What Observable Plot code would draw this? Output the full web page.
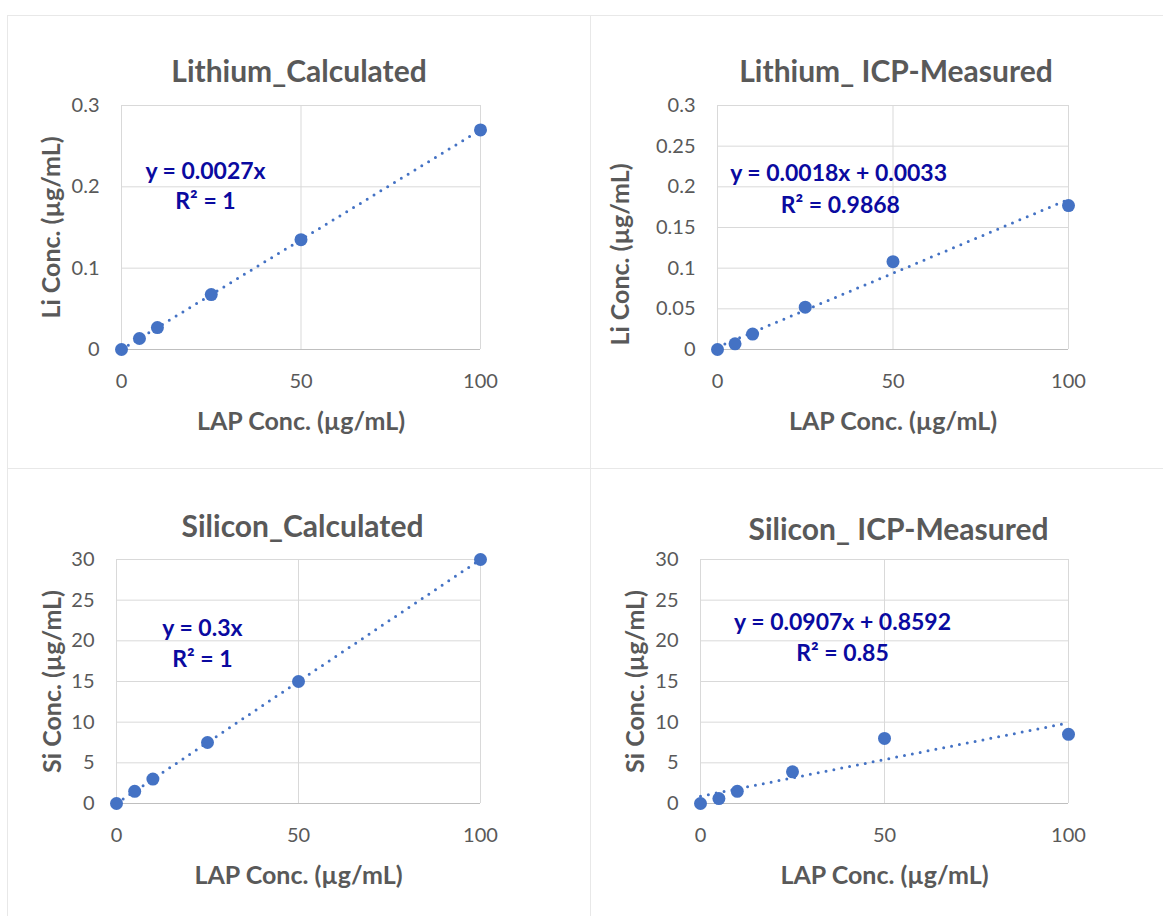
<!DOCTYPE html>
<html><head><meta charset="utf-8">
<script src="https://cdn.jsdelivr.net/npm/d3@7"></script>
<script src="https://cdn.jsdelivr.net/npm/@observablehq/plot@0.6"></script>
<style>
body{margin:0;background:#fff;font-family:Lato,"Open Sans",sans-serif}
#wrap{position:relative;width:1163px;height:916px;overflow:hidden;background:#fff}
.panel{position:absolute}
.line{position:absolute;background:#E8E8E8}
</style></head><body><div id="wrap"></div>
<script>
// ---- data ----
const lapConc = [0, 5, 10, 25, 50, 100];
const liCalculated = [0, 0.0135, 0.027, 0.0675, 0.135, 0.27];
const liMeasured = [0, 0.007, 0.019, 0.052, 0.108, 0.177];
const siCalculated = [0, 1.5, 3, 7.5, 15, 30];
const siMeasured = [0, 0.6, 1.5, 3.9, 8.0, 8.5];

const xTicks = [0, 50, 100];
const liCalcTicks = [0, 0.1, 0.2, 0.3];
const liMeasTicks = [0, 0.05, 0.1, 0.15, 0.2, 0.25, 0.3];
const siTicks = [0, 5, 10, 15, 20, 25, 30];

const titles = ["Lithium_Calculated", "Lithium_ ICP-Measured", "Silicon_Calculated", "Silicon_ ICP-Measured"];
const equations = [
  ["y = 0.0027x", "R² = 1"],
  ["y = 0.0018x + 0.0033", "R² = 0.9868"],
  ["y = 0.3x", "R² = 1"],
  ["y = 0.0907x + 0.8592", "R² = 0.85"]
];
const yLabels = ["Li Conc. (µg/mL)", "Li Conc. (µg/mL)", "Si Conc. (µg/mL)", "Si Conc. (µg/mL)"];
const xLabel = "LAP Conc. (µg/mL)";

// ---- styles ----
const BLUE = "#4472C4", GRAY = "#595959", GRID = "#D9D9D9", EQ = "#0A0AA0";
const FONT = "Lato, 'Open Sans', sans-serif";

const panels = [
  {left: 7, top: 15, width: 583, height: 453, m: [90, 110, 119, 114], yv: liCalculated, yt: liCalcTicks, ymax: 0.3,
   eqPos: [[23.4, 0.219], [23.4, 0.182]], yLabDx: -70, yLabDy: 0, tDx: -2, tDy: -24},
  {left: 590, top: 15, width: 573, height: 453, m: [90, 95, 119, 127], yv: liMeasured, yt: liMeasTicks, ymax: 0.3,
   eqPos: [[34.5, 0.216], [35, 0.177]], yLabDx: -97, yLabDy: 27, tDx: 3, tDy: -24},
  {left: 7, top: 468, width: 583, height: 448, m: [91, 110, 113, 109], yv: siCalculated, yt: siTicks, ymax: 30,
   eqPos: [[23.6, 21.5], [23.6, 17.7]], yLabDx: -64, yLabDy: 0, tDx: 4, tDy: -23},
  {left: 590, top: 468, width: 573, height: 448, m: [91, 95, 113, 110], yv: siMeasured, yt: siTicks, ymax: 30,
   eqPos: [[38.6, 22.3], [38.6, 18.4]], yLabDx: -65, yLabDy: 0, tDx: 14, tDy: -20}
];

const wrap = document.getElementById("wrap");

// panel separator lines
[[7, 15, 1156, 1], [7, 468, 1156, 1], [7, 15, 1, 901], [590, 15, 1, 901]].forEach(([l, t, w, h]) => {
  const d = document.createElement("div"); d.className = "line";
  Object.assign(d.style, {left: l + "px", top: t + "px", width: w + "px", height: h + "px"}); wrap.appendChild(d);
});

panels.forEach((p, i) => {
  const data = lapConc.map((x, j) => ({x, y: p.yv[j]}));
  const chart = Plot.plot({
    width: p.width, height: p.height,
    marginTop: p.m[0], marginRight: p.m[1], marginBottom: p.m[2], marginLeft: p.m[3],
    style: {fontFamily: FONT, background: "transparent", overflow: "visible"},
    x: {domain: [0, 100]},
    y: {domain: [0, p.ymax]},
    marks: [
      Plot.gridY(p.yt, {stroke: GRID, strokeOpacity: 1, strokeWidth: 1}),
      Plot.gridX(xTicks, {stroke: GRID, strokeOpacity: 1, strokeWidth: 1}),
      Plot.ruleY([0], {stroke: "#BFBFBF", strokeWidth: 1}),
      Plot.axisY(p.yt, {tickSize: 0, tickPadding: 22, fontSize: 20, color: GRAY, label: null, tickFormat: d => String(d)}),
      Plot.axisX(xTicks, {tickSize: 0, tickPadding: 24, fontSize: 20, color: GRAY, label: null, tickFormat: d => String(d)}),
      Plot.linearRegressionY(data, {x: "x", y: "y", ci: 0, stroke: BLUE, strokeWidth: 3, strokeDasharray: "0,8", strokeLinecap: "round"}),
      Plot.dot(data, {x: "x", y: "y", r: 6.5, fill: BLUE, stroke: "none"}),
      Plot.text([equations[i][0]], {x: p.eqPos[0][0], y: p.eqPos[0][1], text: d => d, fill: EQ, fontSize: 23, fontWeight: "bold", textAnchor: "middle", lineAnchor: "middle"}),
      Plot.text([equations[i][1]], {x: p.eqPos[1][0], y: p.eqPos[1][1], text: d => d, fill: EQ, fontSize: 23, fontWeight: "bold", textAnchor: "middle", lineAnchor: "middle"}),
      Plot.text([titles[i]], {frameAnchor: "top", text: d => d, dx: p.tDx, dy: p.tDy, textAnchor: "middle", lineAnchor: "bottom", fontSize: 30, fontWeight: "bold", fill: GRAY}),
      Plot.text([xLabel], {frameAnchor: "bottom", text: d => d, dy: 72, textAnchor: "middle", lineAnchor: "middle", fontSize: 25, fontWeight: "bold", fill: GRAY}),
      Plot.text([yLabels[i]], {frameAnchor: "left", text: d => d, rotate: -90, dx: p.yLabDx, dy: p.yLabDy, textAnchor: "middle", lineAnchor: "middle", fontSize: 25, fontWeight: "bold", fill: GRAY})
    ]
  });
  chart.classList.add("panel");
  chart.style.left = p.left + "px";
  chart.style.top = p.top + "px";
  wrap.appendChild(chart);
});
</script>
</body></html>
